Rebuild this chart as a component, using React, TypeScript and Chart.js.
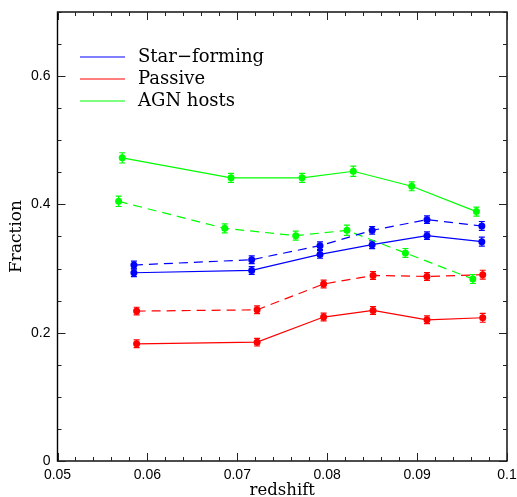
import { useEffect, useRef } from "react";
import { Chart, registerables } from "chart.js";

Chart.register(...registerables);

// ---- data ----
const starX = [0.0585, 0.0716, 0.0792, 0.085, 0.0911, 0.0972];
const starSolid = [0.2935, 0.2971, 0.3221, 0.3372, 0.3513, 0.3419];
const starDashed = [0.3055, 0.3138, 0.3357, 0.3596, 0.3763, 0.3664];
const starErr = [0.006, 0.006, 0.006, 0.006, 0.006, 0.007];

const passiveX = [0.0588, 0.0722, 0.0796, 0.0851, 0.0911, 0.0973];
const passiveSolid = [0.1827, 0.1853, 0.2244, 0.2347, 0.2201, 0.2233];
const passiveDashed = [0.2337, 0.2357, 0.2759, 0.2893, 0.2877, 0.2904];
const passiveErr = [0.006, 0.006, 0.006, 0.006, 0.006, 0.007];

const agnSolidX = [0.0572, 0.0693, 0.0772, 0.0829, 0.0894, 0.0966];
const agnSolid = [0.4726, 0.4414, 0.4414, 0.4517, 0.4283, 0.3888];
const agnDashedX = [0.0568, 0.0686, 0.0765, 0.0822, 0.0887, 0.0962];
const agnDashed = [0.4048, 0.3627, 0.3513, 0.3596, 0.3243, 0.2837];
const agnErr = [0.008, 0.007, 0.007, 0.008, 0.007, 0.007];

const legendLabels = ["Star\u2212forming", "Passive", "AGN hosts"];

const xTickValues = [0.05, 0.06, 0.07, 0.08, 0.09, 0.1];
const xTickLabels = ["0.05", "0.06", "0.07", "0.08", "0.09", "0.1"];
const yTickValues = [0, 0.2, 0.4, 0.6];
const yTickLabels = ["0", "0.2", "0.4", "0.6"];
const xMinorStep = 0.002;
const yMinorStep = 0.05;

const BLUE = "#0000ff";
const RED = "#ff0000";
const GREEN = "#00ff00";

const toPoints = (xs: number[], ys: number[]) => xs.map((x, i) => ({ x, y: ys[i] }));

const framePlugin = {
  id: "frame",
  beforeDatasetsDraw(chart: any) {
    const { ctx, scales } = chart;
    const xs = scales.x;
    const ys = scales.y;
    ctx.save();
    chart.data.datasets.forEach((ds: any) => {
      const errs: number[] = ds.errors || [];
      ctx.strokeStyle = ds.borderColor;
      ctx.lineWidth = 1.2;
      ds.data.forEach((p: any, j: number) => {
        const e = errs[j] || 0;
        const px = xs.getPixelForValue(p.x);
        const y1 = ys.getPixelForValue(p.y - e);
        const y2 = ys.getPixelForValue(p.y + e);
        ctx.beginPath();
        ctx.moveTo(px, y1);
        ctx.lineTo(px, y2);
        ctx.moveTo(px - 3, y1);
        ctx.lineTo(px + 3, y1);
        ctx.moveTo(px - 3, y2);
        ctx.lineTo(px + 3, y2);
        ctx.stroke();
      });
    });
    ctx.restore();
  },
  afterDraw(chart: any) {
    const { ctx, chartArea, scales } = chart;
    const { left, right, top, bottom } = chartArea;
    const xs = scales.x;
    const ys = scales.y;
    ctx.save();
    ctx.strokeStyle = "#000";
    ctx.lineWidth = 1.4;
    ctx.strokeRect(left, top, right - left, bottom - top);

    ctx.lineWidth = 1;
    ctx.strokeStyle = "#222";
    const isMajor = (v: number, list: number[]) => list.some((t) => Math.abs(t - v) < 1e-9);
    const nx = Math.round((xs.max - xs.min) / xMinorStep);
    for (let i = 0; i <= nx; i++) {
      const v = xs.min + i * xMinorStep;
      const len = isMajor(v, xTickValues) ? 8 : 4;
      const px = Math.round(xs.getPixelForValue(v)) + 0.5;
      ctx.beginPath();
      ctx.moveTo(px, bottom);
      ctx.lineTo(px, bottom - len);
      ctx.moveTo(px, top);
      ctx.lineTo(px, top + len);
      ctx.stroke();
    }
    const ny = Math.round((ys.max - ys.min) / yMinorStep);
    for (let i = 0; i <= ny; i++) {
      const v = ys.min + i * yMinorStep;
      const len = isMajor(v, yTickValues) ? 8 : 4;
      const py = Math.round(ys.getPixelForValue(v)) + 0.5;
      ctx.beginPath();
      ctx.moveTo(left, py);
      ctx.lineTo(left + len, py);
      ctx.moveTo(right, py);
      ctx.lineTo(right - len, py);
      ctx.stroke();
    }

    // legend
    const legendDs = chart.data.datasets.filter((d: any) => d.inLegend);
    ctx.font = "18px 'DejaVu Serif'";
    ctx.textBaseline = "middle";
    ctx.textAlign = "left";
    legendDs.forEach((d: any, i: number) => {
      const ly = 57 + i * 22;
      ctx.strokeStyle = d.borderColor;
      ctx.lineWidth = 1.2;
      ctx.beginPath();
      ctx.moveTo(80, ly);
      ctx.lineTo(125, ly);
      ctx.stroke();
      ctx.fillStyle = "#000";
      ctx.fillText(d.label, 138, ly);
    });
    ctx.restore();
  },
};

function makeDataset(label: string, xs: number[], ys: number[], errs: number[], color: string, dashed: boolean, inLegend: boolean) {
  return {
    label,
    data: toPoints(xs, ys),
    errors: errs,
    inLegend,
    borderColor: color,
    backgroundColor: color,
    borderWidth: 1.2,
    borderDash: dashed ? [9, 6] : [],
    pointRadius: 3.5,
    pointBorderWidth: 0,
    pointBackgroundColor: color,
    showLine: true,
    tension: 0,
    fill: false,
  };
}

export default function App() {
  const ref = useRef<HTMLCanvasElement | null>(null);
  useEffect(() => {
    document.body.style.margin = "0";
    if (!ref.current) return;
    const chart = new Chart(ref.current, {
      type: "scatter",
      data: {
        datasets: [
          makeDataset(legendLabels[0], starX, starSolid, starErr, BLUE, false, true),
          makeDataset(legendLabels[1], passiveX, passiveSolid, passiveErr, RED, false, true),
          makeDataset(legendLabels[2], agnSolidX, agnSolid, agnErr, GREEN, false, true),
          makeDataset(legendLabels[0] + " (dashed)", starX, starDashed, starErr, BLUE, true, false),
          makeDataset(legendLabels[1] + " (dashed)", passiveX, passiveDashed, passiveErr, RED, true, false),
          makeDataset(legendLabels[2] + " (dashed)", agnDashedX, agnDashed, agnErr, GREEN, true, false),
        ] as any,
      },
      options: {
        animation: false,
        responsive: true,
        maintainAspectRatio: false,
        layout: { padding: { left: 0, top: 12, right: 10, bottom: 0 } },
        plugins: { legend: { display: false }, tooltip: { enabled: false } },
        scales: {
          x: {
            type: "linear",
            min: 0.05,
            max: 0.1,
            grid: { display: false, drawTicks: false },
            border: { display: false },
            afterBuildTicks: (scale: any) => {
              scale.ticks = xTickValues.map((v) => ({ value: v }));
            },
            afterFit: (scale: any) => {
              scale.height = 36;
              scale.paddingLeft = 0;
              scale.paddingRight = 0;
            },
            ticks: {
              autoSkip: false,
              maxRotation: 0,
              padding: 6,
              color: "#000",
              font: { family: "'Liberation Sans'", size: 14 },
              callback: (_v: any, i: number) => xTickLabels[i],
            },
            title: {
              display: true,
              text: "redshift",
              color: "#000",
              font: { family: "'DejaVu Serif'", size: 16.5 },
              padding: { top: 0, bottom: -4 },
            },
          },
          y: {
            type: "linear",
            min: 0,
            max: 0.7,
            grid: { display: false, drawTicks: false },
            border: { display: false },
            afterBuildTicks: (scale: any) => {
              scale.ticks = yTickValues.map((v) => ({ value: v }));
            },
            afterFit: (scale: any) => {
              scale.width = 57.5;
              scale.paddingTop = 0;
              scale.paddingBottom = 0;
            },
            ticks: {
              padding: 7,
              color: "#000",
              font: { family: "'Liberation Sans'", size: 14 },
              callback: (_v: any, i: number) => yTickLabels[i],
            },
            title: {
              display: true,
              text: "Fraction",
              color: "#000",
              font: { family: "'DejaVu Serif'", size: 17 },
              padding: { top: 6, bottom: 0 },
            },
          },
        },
      },
      plugins: [framePlugin],
    } as any);
    return () => chart.destroy();
  }, []);
  return (
    <div style={{ position: "relative", width: 517, height: 497 }}>
      <canvas ref={ref} />
    </div>
  );
}
